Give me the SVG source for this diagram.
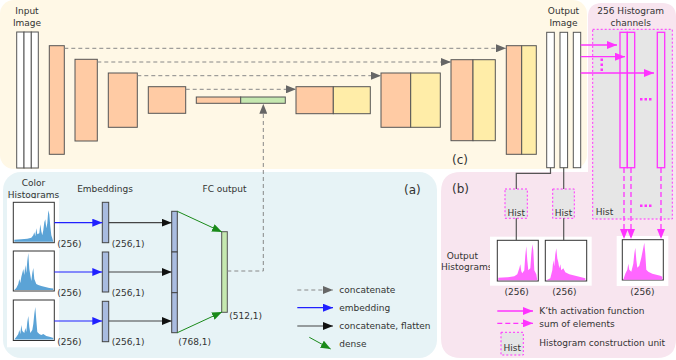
<svg xmlns="http://www.w3.org/2000/svg" width="676" height="360" viewBox="0 0 676 360">
<style>
text{font-family:"DejaVu Sans","Liberation Sans",sans-serif;font-size:9px;fill:#333}
.c{text-anchor:middle}
.big{font-size:12px}
.blk{stroke:#555;stroke-width:1}
.org{fill:#FFCBA4}
.yel{fill:#FFEDA8}
.grn{fill:#C5E8B0}
.wbar{fill:#fff;stroke:#555;stroke-width:1}
.emb{fill:#A9BCE0;stroke:#444;stroke-width:1}
.dash{fill:none;stroke:#888;stroke-width:1;stroke-dasharray:4,3}
.blue{fill:none;stroke:#2020FF;stroke-width:1.2}
.black{fill:none;stroke:#444;stroke-width:1.2}
.green{fill:none;stroke:#1A8A1A;stroke-width:1}
.mag{fill:none;stroke:#FF33FF;stroke-width:1.3}
.magd{fill:none;stroke:#FF33FF;stroke-width:1.3;stroke-dasharray:5,3}
.hbox{fill:#E6E6E6;stroke:#FF33FF;stroke-width:1;stroke-dasharray:2,2}
.hist{fill:#fff;stroke:#333;stroke-width:1}
.bh{fill:#5BA3D6}
.mh{fill:#FF66FF}
.conn{fill:none;stroke:#555;stroke-width:1.2}
.dot{fill:#FF33FF}
</style>
<defs>
<marker id="ag" markerUnits="userSpaceOnUse" markerWidth="10" markerHeight="8" refX="10" refY="4" orient="auto"><path d="M0,0 L10,4 L0,8 z" fill="#666"/></marker>
<marker id="ab" markerUnits="userSpaceOnUse" markerWidth="10" markerHeight="8" refX="10" refY="4" orient="auto"><path d="M0,0 L10,4 L0,8 z" fill="#2020FF"/></marker>
<marker id="ak" markerUnits="userSpaceOnUse" markerWidth="10" markerHeight="8" refX="10" refY="4" orient="auto"><path d="M0,0 L10,4 L0,8 z" fill="#111"/></marker>
<marker id="an" markerUnits="userSpaceOnUse" markerWidth="10" markerHeight="8" refX="10" refY="4" orient="auto"><path d="M0,0 L10,4 L0,8 z" fill="#1A8A1A"/></marker>
<marker id="am" markerUnits="userSpaceOnUse" markerWidth="10" markerHeight="8" refX="10" refY="4" orient="auto"><path d="M0,0 L10,4 L0,8 z" fill="#FF33FF"/></marker>
</defs>

<!-- backgrounds -->
<g id="backgrounds">
<rect x="0" y="0" width="587" height="169" rx="14" fill="#FFF8E6"/>
<rect x="3" y="172" width="434" height="186" rx="18" fill="#E7F3F6"/>
<path d="M441 192 Q441 172 461 172 L588 172 L588 17 Q588 3 602 3 L662 3 Q676 3 676 17 L676 339 Q676 358 657 358 L461 358 Q441 358 441 338 Z" fill="#F8E5EF"/>
</g>

<!-- (c) network -->
<g id="input-image">
<rect class="wbar" x="16.7" y="32" width="7.3" height="136"/>
<rect class="wbar" x="24" y="32" width="7.3" height="136"/>
<rect class="wbar" x="31.3" y="32" width="7" height="136"/>
<text class="c" x="27" y="14">Input</text>
<text class="c" x="27" y="25.5">Image</text>
</g>
<g id="enc1"><rect class="blk org" x="49.3" y="45.7" width="15" height="108.6"/></g>
<g id="enc2"><rect class="blk org" x="75" y="59.3" width="22.3" height="81.7"/></g>
<g id="enc3"><rect class="blk org" x="108.3" y="73" width="29" height="54.3"/></g>
<g id="enc4"><rect class="blk org" x="148.3" y="86.7" width="37.4" height="26.6"/></g>
<g id="bottleneck">
<rect class="blk org" x="196.3" y="97" width="44.4" height="6.3"/>
<rect class="blk grn" x="240.7" y="97" width="44.6" height="6.3"/>
</g>
<g id="dec1">
<rect class="blk org" x="296" y="86.7" width="37.3" height="27"/>
<rect class="blk yel" x="333.3" y="86.7" width="37" height="27"/>
</g>
<g id="dec2">
<rect class="blk org" x="381" y="73" width="29.7" height="54.3"/>
<rect class="blk yel" x="410.7" y="73" width="29.6" height="54.3"/>
</g>
<g id="dec3">
<rect class="blk org" x="451" y="59.7" width="22" height="81"/>
<rect class="blk yel" x="473" y="59.7" width="22.3" height="81"/>
</g>
<g id="dec4">
<rect class="blk org" x="506.3" y="45.7" width="15.4" height="108.6"/>
<rect class="blk yel" x="521.7" y="45.7" width="14.6" height="108.6"/>
</g>
<g id="output-image">
<rect class="wbar" x="546.7" y="32.3" width="7.6" height="135.4"/>
<rect class="wbar" x="560" y="32.3" width="7.6" height="135.4"/>
<rect class="wbar" x="573.3" y="32.3" width="7.4" height="135.4"/>
<text class="c" x="563.5" y="14">Output</text>
<text class="c" x="563.5" y="25.5">Image</text>
</g>
<text class="big" x="452" y="164">(c)</text>

<!-- histogram channels -->
<g id="hist-channels">
<text class="c" x="630.7" y="14">256 Histogram</text>
<text class="c" x="630.7" y="25.5">channels</text>
<rect class="hbox" x="592.7" y="29.3" width="79.6" height="189.7"/>
<rect class="mag" x="620" y="32.3" width="7.3" height="135.4"/>
<rect class="mag" x="627.3" y="32.3" width="7.4" height="135.4"/>
<rect class="mag" x="657.3" y="32.3" width="7.4" height="135.4"/>
<rect class="dot" x="600.5" y="58.5" width="2.5" height="2.5"/>
<rect class="dot" x="600.5" y="63.5" width="2.5" height="2.5"/>
<rect class="dot" x="600.5" y="68.5" width="2.5" height="2.5"/>
<rect class="dot" x="640" y="98" width="2.5" height="2.5"/>
<rect class="dot" x="644.5" y="98" width="2.5" height="2.5"/>
<rect class="dot" x="649" y="98" width="2.5" height="2.5"/>
<rect class="dot" x="640" y="204.5" width="2.5" height="2.5"/>
<rect class="dot" x="644.5" y="204.5" width="2.5" height="2.5"/>
<rect class="dot" x="649" y="204.5" width="2.5" height="2.5"/>
<text x="595.7" y="215">Hist</text>
</g>

<!-- (a) panel -->
<text class="big" x="404" y="194">(a)</text>
<text class="c" x="33.5" y="185.5">Color</text>
<text class="c" x="33.5" y="197.5">Histograms</text>
<text class="c" x="105" y="191.5">Embeddings</text>
<text class="c" x="224.5" y="191.5">FC output</text>
<rect x="7" y="198.3" width="52" height="149" fill="#fff"/>
<g id="color-hist-1">
<rect class="hist" x="13.3" y="202.3" width="41" height="40.4"/>
<polygon class="bh" transform="translate(13.3,202.3)" points="1,39.4 1,37.5 8,37 14,36.5 18,35.5 20,33 21,30 22,34 23,26 24,32 26,31 27,22 28,29 29,33 30,28 31,20 32,17 33,26 34,21 35,8 36,12 37,24 38,33 39,36 40,39.4"/>
<text x="57.3" y="246.5">(256)</text>
</g>
<g id="color-hist-2">
<rect class="hist" x="13.3" y="251" width="41" height="40"/>
<polygon class="bh" transform="translate(13.3,251)" points="1,39 3,37 5,33 6,28 7,32 8,26 10,18 11,24 12,14 13,22 14,10 15,2 16,18 17,24 18,30 19,22 20,17 21,28 23,33 25,34 28,35 32,36 36,37 40,37.5 40,39"/>
<text x="57.3" y="295.5">(256)</text>
</g>
<g id="color-hist-3">
<rect class="hist" x="13.3" y="300" width="41" height="40.5"/>
<polygon class="bh" transform="translate(13.3,300)" points="1,39.5 3,37 5,34 6,30 7,34 8,25 9,31 11,33 12,28 13,32 14,22 15,16 16,27 17,33 19,30 20,24 21,14 22,7 23,20 24,32 26,34 28,35 30,34 33,36 37,37 40,38 40,39.5"/>
<text x="57.3" y="344.5">(256)</text>
</g>
<g id="emb-1"><rect class="emb" x="102.3" y="202.3" width="6.4" height="40.4"/><text x="111.7" y="247">(256,1)</text></g>
<g id="emb-2"><rect class="emb" x="102.3" y="252" width="6.4" height="40"/><text x="111.7" y="296">(256,1)</text></g>
<g id="emb-3"><rect class="emb" x="102.3" y="301.3" width="6.4" height="40.4"/><text x="111.7" y="345">(256,1)</text></g>
<g id="concat">
<rect class="emb" x="171.7" y="211.3" width="5.6" height="40.7"/>
<rect class="emb" x="171.7" y="252" width="5.6" height="40.7"/>
<rect class="emb" x="171.7" y="292.7" width="5.6" height="40"/>
<text x="178.3" y="345">(768,1)</text>
</g>
<g id="fc-output">
<rect class="blk grn" x="221.7" y="231.7" width="5.6" height="80.6"/>
<text x="229.3" y="318.5">(512,1)</text>
</g>

<!-- (b) panel -->
<text class="big" x="452" y="193">(b)</text>
<g id="hist-unit-1"><rect class="hbox" x="505" y="189" width="22.3" height="29.3"/><text class="c" x="516.2" y="215.5">Hist</text></g>
<g id="hist-unit-2"><rect class="hbox" x="552.7" y="189" width="21.6" height="29.3"/><text class="c" x="563.5" y="215.5">Hist</text></g>
<text class="c" x="462.3" y="259">Output</text>
<text class="c" x="466.7" y="270">Histograms</text>
<rect x="490" y="236.7" width="101.7" height="49" fill="#fff"/>
<rect x="616.7" y="236" width="51.6" height="50" fill="#fff"/>
<g id="out-hist-1">
<rect class="hist" x="497.3" y="240.3" width="41" height="40.7"/>
<polygon class="mh" transform="translate(497.3,240.3)" points="1,40 1,37.5 10,37 17,36 20,34 21,31 22,28 23,24 24,31 25,33 27,30 28,15 29,6 30,20 31,30 33,28 34,14 35,4 36,10 37,30 39,34 40,40"/>
<text class="c" x="516.7" y="294.5">(256)</text>
</g>
<g id="out-hist-2">
<rect class="hist" x="545.3" y="240.3" width="41.4" height="40.7"/>
<polygon class="mh" transform="translate(545.3,240.3)" points="1,40 5,38 7,30 8,20 9,26 10,14 11,8 12,18 13,22 14,28 15,24 16,30 18,28 20,32 24,34 28,35 32,36 36,37 40,38 40,40"/>
<text class="c" x="564.3" y="294.5">(256)</text>
</g>
<g id="out-hist-3">
<rect class="hist" x="622.3" y="239.7" width="41" height="40.3"/>
<polygon class="mh" transform="translate(622.3,239.7)" points="1,40 3,34 5,30 6,24 7,30 9,32 11,24 12,14 13,8 14,20 15,28 17,26 19,18 21,8 22,3 23,14 24,30 26,32 30,34 34,35 38,36 40,37 40,40"/>
<text class="c" x="642.3" y="294.5">(256)</text>
</g>

<!-- connectors -->
<g id="connectors">
<line class="dash" x1="64.3" y1="48.3" x2="506" y2="48.3" marker-end="url(#ag)"/>
<line class="dash" x1="97.3" y1="62" x2="451" y2="62" marker-end="url(#ag)"/>
<line class="dash" x1="137.3" y1="75.7" x2="381" y2="75.7" marker-end="url(#ag)"/>
<line class="dash" x1="185.7" y1="89.3" x2="296" y2="89.3" marker-end="url(#ag)"/>
<path class="dash" d="M227.3 271 H263.3 V103.8" marker-end="url(#ag)"/>
<line class="blue" x1="54.3" y1="222.7" x2="102.3" y2="222.7" marker-end="url(#ab)"/>
<line class="blue" x1="54.3" y1="272" x2="102.3" y2="272" marker-end="url(#ab)"/>
<line class="blue" x1="54.3" y1="321" x2="102.3" y2="321" marker-end="url(#ab)"/>
<line class="black" x1="108.7" y1="222.7" x2="171.7" y2="222.7" marker-end="url(#ak)"/>
<line class="black" x1="108.7" y1="272" x2="171.7" y2="272" marker-end="url(#ak)"/>
<line class="black" x1="108.7" y1="321" x2="171.7" y2="321" marker-end="url(#ak)"/>
<line class="green" x1="177.3" y1="211.3" x2="222" y2="232" marker-end="url(#an)"/>
<line class="green" x1="177.3" y1="332.7" x2="222" y2="312" marker-end="url(#an)"/>
<line class="mag" x1="580.7" y1="45" x2="617" y2="45" marker-end="url(#am)"/>
<line class="mag" x1="580.7" y1="56.7" x2="625" y2="56.7" marker-end="url(#am)"/>
<line class="mag" x1="580.7" y1="73" x2="654" y2="73" marker-end="url(#am)"/>
<line class="magd" x1="624" y1="168" x2="624" y2="239" marker-end="url(#am)"/>
<line class="magd" x1="631" y1="168" x2="631" y2="239" marker-end="url(#am)"/>
<line class="magd" x1="661" y1="168" x2="661" y2="239" marker-end="url(#am)"/>
<path class="conn" d="M550.5 167.7 V173.3 H516.3 V189"/>
<path class="conn" d="M563.7 167.7 V189"/>
<path class="conn" d="M516.3 218.3 V240.3"/>
<path class="conn" d="M563.7 218.3 V240.3"/>
</g>

<!-- legends -->
<g id="legend-a">
<line class="dash" x1="297.3" y1="290" x2="333" y2="290" marker-end="url(#ag)"/>
<text x="339.3" y="293.3">concatenate</text>
<line class="blue" x1="297.3" y1="307.7" x2="333" y2="307.7" marker-end="url(#ab)"/>
<text x="339.3" y="311">embedding</text>
<line class="black" x1="297.3" y1="326" x2="333" y2="326" marker-end="url(#ak)"/>
<text x="339.3" y="329.3">concatenate, flatten</text>
<line class="green" x1="309.3" y1="337.3" x2="330.7" y2="349" marker-end="url(#an)"/>
<text x="339.3" y="347.3">dense</text>
</g>
<g id="legend-b">
<line class="mag" x1="497.3" y1="311" x2="533" y2="311" marker-end="url(#am)"/>
<text x="539.3" y="314.3">K’th activation function</text>
<line class="magd" x1="497.3" y1="323.3" x2="533" y2="323.3" marker-end="url(#am)"/>
<text x="539.3" y="326.6">sum of elements</text>
<rect class="hbox" x="501" y="332.3" width="22.3" height="22.7"/>
<text class="c" x="512.2" y="351">Hist</text>
<text x="539.3" y="346">Histogram construction unit</text>
</g>
</svg>
